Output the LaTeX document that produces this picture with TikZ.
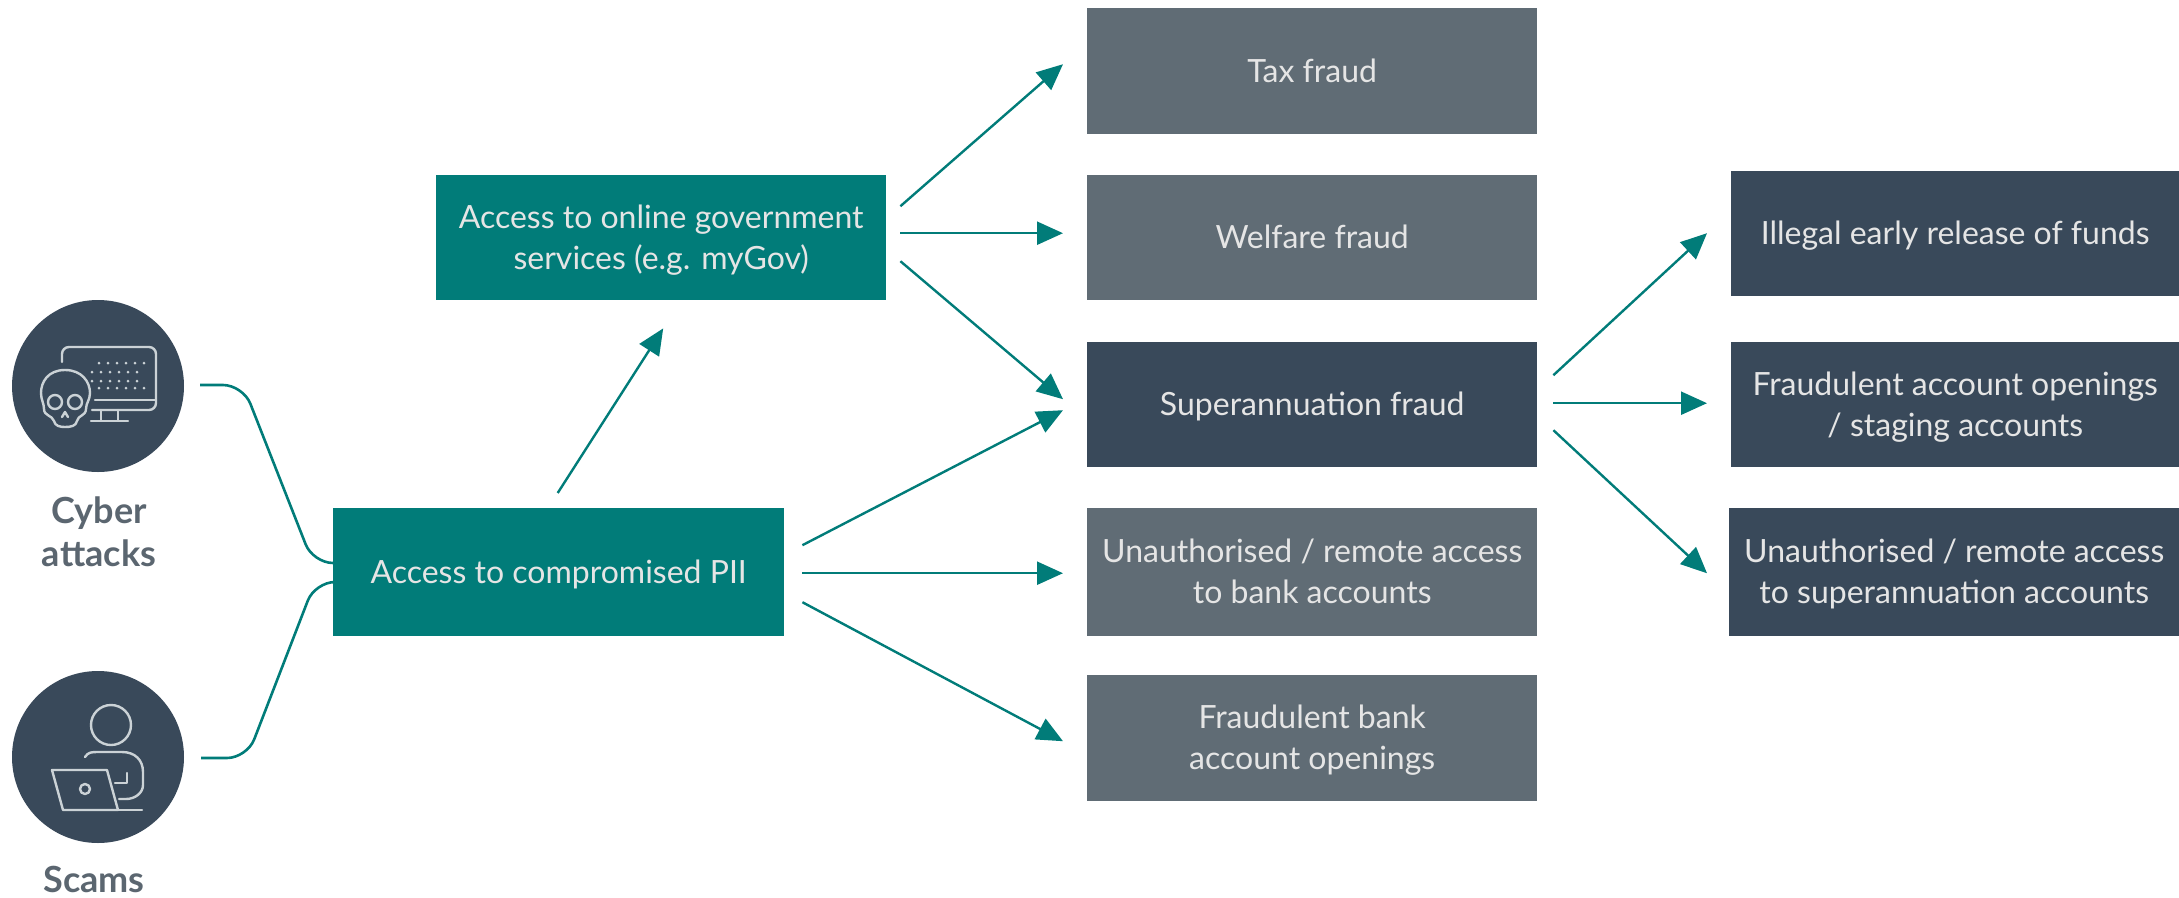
\documentclass[tikz,border=0pt]{standalone}
\usepackage{fontspec}
\setmainfont{Lato}
\usetikzlibrary{arrows.meta}
\definecolor{tealbox}{HTML}{017C79}
\definecolor{slatebox}{HTML}{39495A}
\definecolor{greybox}{HTML}{606C75}
\definecolor{icon}{HTML}{CBD2D6}
\definecolor{lbl}{HTML}{5B6670}
\tikzset{
  box/.style={draw=none,anchor=north west,inner sep=0pt,text=white!90!black,align=center,font=\fontsize{32}{41}\selectfont},
  tealnode/.style={box,fill=tealbox},
  slatenode/.style={box,fill=slatebox},
  greynode/.style={box,fill=greybox},
  disc/.style={circle,fill=slatebox,minimum size=172pt,inner sep=0pt},
  caption/.style={text=lbl,align=center,font=\fontsize{36}{43}\selectfont\bfseries},
  arrowline/.style={draw=tealbox,line width=2.4pt,-{Triangle[length=26pt,width=23pt]}},
  link/.style={draw=tealbox,line width=2.6pt,rounded corners=20pt},
  ic/.style={draw=icon,line width=2.4pt,line cap=round,line join=round},
}
\newcommand{\bx}[7]{\node[#1,minimum width=#4pt,minimum height=#5pt] (#6) at (#2,#3) {\raisebox{-3pt}[\height][\depth]{\begin{tabular}{@{}c@{}}#7\end{tabular}}};}
\newcommand{\arr}[4]{\draw[arrowline] ([shift={#2}]#1) -- ([shift={#4}]#3);}
\begin{document}
\begin{tikzpicture}[x=1pt,y=-1pt]
\useasboundingbox (0,0) rectangle (2179,897);
\bx{tealnode}{436}{175}{450}{125}{online}{Access to online government\\services (e.g. myGov)}
\bx{tealnode}{333}{508}{451}{128}{pii}{Access to compromised PII}
\bx{greynode}{1087}{8}{450}{126}{tax}{Tax fraud}
\bx{greynode}{1087}{175}{450}{125}{welfare}{Welfare fraud}
\bx{slatenode}{1087}{342}{450}{125}{super}{Superannuation fraud}
\bx{greynode}{1087}{508}{450}{128}{bank}{Unauthorised / remote access\\to bank accounts}
\bx{greynode}{1087}{675}{450}{126}{open}{Fraudulent bank\\account openings}
\bx{slatenode}{1731}{171}{448}{125}{early}{Illegal early release of funds}
\bx{slatenode}{1731}{342}{448}{125}{staging}{Fraudulent account openings\\/ staging accounts}
\bx{slatenode}{1729}{508}{450}{128}{remote}{Unauthorised / remote access\\to superannuation accounts}
\node[disc] (cyber) at (98,386) {};
\node[disc] (scams) at (98,757) {};
\node[caption] (cyberlabel) at (99,532) {Cyber\\attacks};
\node[caption] (scamslabel) at (94,879) {Scams};
% monitor icon
\draw[ic] (62,362) -- (62,354) arc[start angle=180,end angle=270,radius=7] -- (149,347) arc[start angle=-90,end angle=0,radius=7] -- (156,403) arc[start angle=0,end angle=90,radius=7] -- (92,410);
\draw[ic] (95,400) -- (156,400);
\draw[ic] (101,410) -- (101,420) (118,410) -- (118,420) (91,421) -- (128,421);
\foreach \py/\xa in {363/99,372/92,381/92,388/99}{
  \foreach \k in {0,...,5}{
    \fill[icon] ({\xa+\k*9},\py) circle[radius=1.5];
  }
}
% skull
\draw[ic,fill=slatebox] (65,370) .. controls (48,370) and (41,382) .. (41,393) .. controls (41,400) and (44,403) .. (44,409) .. controls (44,416) and (52,415) .. (54,421) .. controls (55,426) and (60,427) .. (65,427) .. controls (71,427) and (76,426) .. (77,421) .. controls (78,415) and (86,416) .. (86,409) .. controls (86,403) and (90,400) .. (90,393) .. controls (90,382) and (82,370) .. (65,370) -- cycle;
\draw[ic] (55,402) circle[radius=7] (75,402) circle[radius=7];
\draw[ic] (62,417) -- (65,412) -- (68,417);
% person icon
\draw[ic] (111,725) circle[radius=20];
\draw[ic] (85,757) .. controls (88,752) and (92,752) .. (98,752) -- (122,752) .. controls (135,752) and (143,760) .. (143,772) -- (143,785) .. controls (143,793) and (135,799) .. (126,799) -- (119,799);
\draw[ic] (127,773) -- (127,783) -- (115,783);
\draw[ic] (52,770) -- (107,770) -- (118,810) -- (63,810) -- cycle;
\draw[ic] (118,810) -- (142,810);
\draw[ic] (85,789) circle[radius=5];
% connectors
\draw[link] ([shift={(16,-1)}]cyber.east) -- (243,385) -- (313,563) -- (pii.west |- 0,563);
\draw[link] ([shift={(17,1)}]scams.east) -- (247,758) -- (315,582) -- (pii.west |- 0,582);
\arr{pii.north}{(-1,-15)}{online.south}{(2,28)}
\arr{online.east}{(14,-31.5)}{tax.west}{(-24,-7)}
\arr{online.east}{(14,-4.5)}{welfare.west}{(-24,-4.5)}
\arr{online.east}{(14,23.5)}{super.west}{(-24,-5.5)}
\arr{pii.east}{(18,-27)}{super.west}{(-24,5.5)}
\arr{pii.east}{(18,1)}{bank.west}{(-24,1)}
\arr{pii.east}{(18,30)}{open.west}{(-24,3)}
\arr{super.east}{(16,-29.5)}{early.west}{(-24,-0.5)}
\arr{super.east}{(16,-1.5)}{staging.west}{(-24,-1.5)}
\arr{super.east}{(16,25.5)}{remote.west}{(-22,1)}
\end{tikzpicture}
\end{document}
